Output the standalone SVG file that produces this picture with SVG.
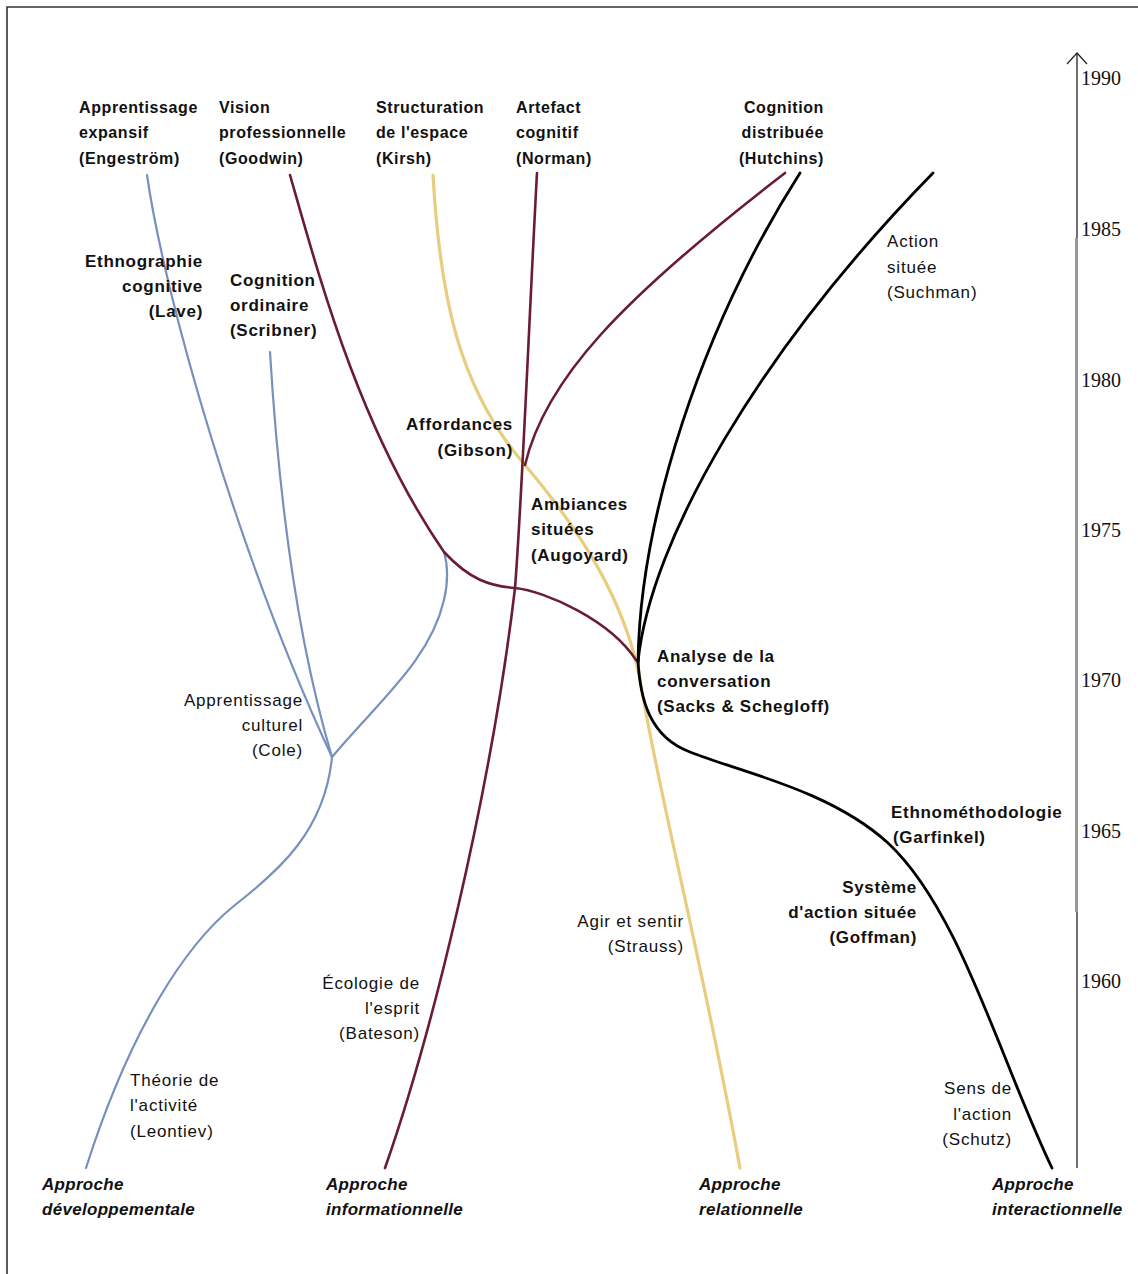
<svg xmlns="http://www.w3.org/2000/svg" width="1138" height="1274" viewBox="0 0 1138 1274">
<style>
.lbl{font-family:"Liberation Sans",Arial,sans-serif;fill:#111}
.t{font-weight:bold;font-size:16px;letter-spacing:0.6px}
.b{font-weight:bold;font-size:17px;letter-spacing:0.7px}
.r{font-size:17px;letter-spacing:0.8px}
.it{font-style:italic;font-weight:bold;font-size:17px;letter-spacing:0.3px}
.yr{font-family:"Liberation Serif","Times New Roman",serif;font-size:20px;fill:#111}
.end{text-anchor:end}
.ln{fill:none;stroke-linecap:round;stroke-linejoin:round}
.blue{stroke:#7890bd;stroke-width:2.2}
.mar{stroke:#6a1c33;stroke-width:2.6}
.yel{stroke:#e8cd80;stroke-width:3.2}
.blk{stroke:#000;stroke-width:2.8}
</style>
<defs>
<marker id="open" markerWidth="24" markerHeight="24" refX="11" refY="10" orient="auto" markerUnits="userSpaceOnUse" overflow="visible">
<path d="M0,0 L11,10 L0,20" fill="none" stroke="#222" stroke-width="1.2"/>
</marker>
</defs>
<rect width="1138" height="1274" fill="#fff"/>
<path d="M7,1274 V7 H1138" fill="none" stroke="#333" stroke-width="1.6"/>

<g id="axis">
<line x1="1077" y1="1168" x2="1077" y2="53" stroke="#222" stroke-width="1.3" marker-end="url(#open)"/>
<line x1="1076.5" y1="238" x2="1076.5" y2="912" stroke="#9a9a9a" stroke-width="3"/>
<text class="yr" x="1081" y="85">1990</text>
<text class="yr" x="1081" y="236">1985</text>
<text class="yr" x="1081" y="387">1980</text>
<text class="yr" x="1081" y="537">1975</text>
<text class="yr" x="1081" y="687">1970</text>
<text class="yr" x="1081" y="838">1965</text>
<text class="yr" x="1081" y="988">1960</text>
</g>

<g id="connectors">
<!-- developmental (blue) -->
<path class="ln blue" d="M86,1168 C130,1030 185,945 235,905 C280,870 325,830 332,757"/>
<path class="ln blue" d="M332,757 C240,560 165,300 147,175"/>
<path class="ln blue" d="M332,757 Q285,600 270,352"/>
<path class="ln blue" d="M332,757 C380,700 430,660 444,600 C449,578 447,562 444,552"/>
<!-- relational (yellow) -->
<path class="ln yel" d="M433,175 C440,300 460,390 525,465 C580,530 625,600 640,680 C660,800 700,950 740,1168"/>
<!-- informational (maroon) -->
<path class="ln mar" d="M385,1168 C430,1040 490,800 515,588 C522,500 530,300 537,173"/>
<path class="ln mar" d="M290,175 C320,280 360,430 444,552 C470,580 490,586 515,588 C545,591 610,620 636,660"/>
<path class="ln mar" d="M525,465 C545,380 620,300 785,173"/>
<!-- interactional (black) -->
<path class="ln blk" d="M1052,1168 C1000,1060 960,910 888,843 C830,790 740,772 690,752 C650,737 640,700 638,660"/>
<path class="ln blk" d="M638,662 C640,520 700,330 800,173"/>
<path class="ln blk" d="M638,662 C650,540 760,350 933,173"/>
</g>

<g id="n-engestrom"><text class="lbl t" x="79" y="113">Apprentissage</text><text class="lbl t" x="79" y="138">expansif</text><text class="lbl t" x="79" y="164">(Engeström)</text></g>
<g id="n-goodwin"><text class="lbl t" x="219" y="113">Vision</text><text class="lbl t" x="219" y="138">professionnelle</text><text class="lbl t" x="219" y="164">(Goodwin)</text></g>
<g id="n-kirsh"><text class="lbl t" x="376" y="113">Structuration</text><text class="lbl t" x="376" y="138">de l'espace</text><text class="lbl t" x="376" y="164">(Kirsh)</text></g>
<g id="n-norman"><text class="lbl t" x="516" y="113">Artefact</text><text class="lbl t" x="516" y="138">cognitif</text><text class="lbl t" x="516" y="164">(Norman)</text></g>
<g id="n-hutchins"><text class="lbl t end" x="824" y="113">Cognition</text><text class="lbl t end" x="824" y="138">distribuée</text><text class="lbl t end" x="824" y="164">(Hutchins)</text></g>

<g id="n-lave"><text class="lbl b end" x="203" y="267">Ethnographie</text><text class="lbl b end" x="203" y="292">cognitive</text><text class="lbl b end" x="203" y="317">(Lave)</text></g>
<g id="n-scribner"><text class="lbl b" x="230" y="286">Cognition</text><text class="lbl b" x="230" y="311">ordinaire</text><text class="lbl b" x="230" y="336">(Scribner)</text></g>
<g id="n-suchman"><text class="lbl r" x="887" y="247">Action</text><text class="lbl r" x="887" y="273">située</text><text class="lbl r" x="887" y="298">(Suchman)</text></g>
<g id="n-gibson"><text class="lbl b end" x="513" y="430">Affordances</text><text class="lbl b end" x="513" y="456">(Gibson)</text></g>
<g id="n-augoyard"><text class="lbl b" x="531" y="510">Ambiances</text><text class="lbl b" x="531" y="535">situées</text><text class="lbl b" x="531" y="561">(Augoyard)</text></g>
<g id="n-sacks"><text class="lbl b" x="657" y="662">Analyse de la</text><text class="lbl b" x="657" y="687">conversation</text><text class="lbl b" x="657" y="712">(Sacks &amp; Schegloff)</text></g>
<g id="n-cole"><text class="lbl r end" x="303" y="706">Apprentissage</text><text class="lbl r end" x="303" y="731">culturel</text><text class="lbl r end" x="303" y="756">(Cole)</text></g>
<g id="n-garfinkel"><text class="lbl b" x="891" y="818">Ethnométhodologie</text><text class="lbl b" x="893" y="843">(Garfinkel)</text></g>
<g id="n-goffman"><text class="lbl b end" x="917" y="893">Système</text><text class="lbl b end" x="917" y="918">d'action située</text><text class="lbl b end" x="917" y="943">(Goffman)</text></g>
<g id="n-strauss"><text class="lbl r end" x="684" y="927">Agir et sentir</text><text class="lbl r end" x="684" y="952">(Strauss)</text></g>
<g id="n-bateson"><text class="lbl r end" x="420" y="989">Écologie de</text><text class="lbl r end" x="420" y="1014">l'esprit</text><text class="lbl r end" x="420" y="1039">(Bateson)</text></g>
<g id="n-leontiev"><text class="lbl r" x="130" y="1086">Théorie de</text><text class="lbl r" x="130" y="1111">l'activité</text><text class="lbl r" x="130" y="1137">(Leontiev)</text></g>
<g id="n-schutz"><text class="lbl r end" x="1012" y="1094">Sens de</text><text class="lbl r end" x="1012" y="1120">l'action</text><text class="lbl r end" x="1012" y="1145">(Schutz)</text></g>

<g id="n-dev"><text class="lbl it" x="42" y="1190">Approche</text><text class="lbl it" x="42" y="1215">développementale</text></g>
<g id="n-info"><text class="lbl it" x="326" y="1190">Approche</text><text class="lbl it" x="326" y="1215">informationnelle</text></g>
<g id="n-rel"><text class="lbl it" x="699" y="1190">Approche</text><text class="lbl it" x="699" y="1215">relationnelle</text></g>
<g id="n-inter"><text class="lbl it" x="992" y="1190">Approche</text><text class="lbl it" x="992" y="1215">interactionnelle</text></g>
</svg>
